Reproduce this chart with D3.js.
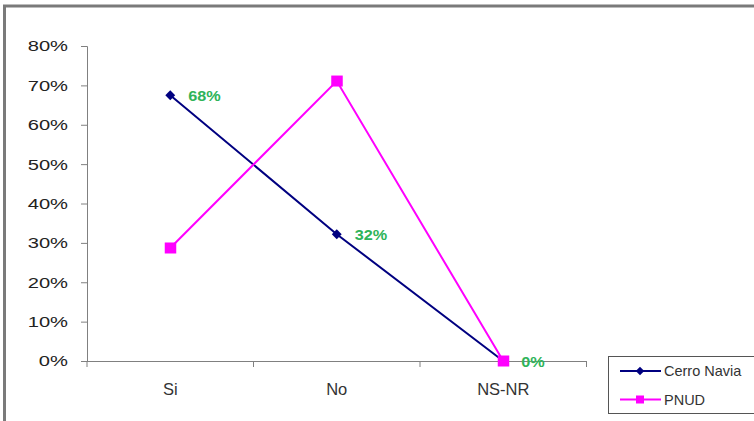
<!DOCTYPE html>
<html><head><meta charset="utf-8">
<script src="https://cdn.jsdelivr.net/npm/d3@7"></script>
<style>body{margin:0;background:#fff}svg{display:block;font-family:"Liberation Sans",Arial,sans-serif}</style>
</head><body><svg id="c" width="754" height="421"></svg>
<script>
const categories = ["Si", "No", "NS-NR"];
const cerroNavia = [0.675, 0.322, 0.0];
const pnud = [0.287, 0.711, 0.0];
const cerroLabels = ["68%", "32%", "0%"];
const yTicks = [0, 0.1, 0.2, 0.3, 0.4, 0.5, 0.6, 0.7, 0.8];
const seriesNames = ["Cerro Navia", "PNUD"];

const svg = d3.select("#c");
// frame
svg.append("path").attr("d", "M4.5,421 V6 H754").attr("fill", "none").attr("stroke", "#7a7a7a").attr("stroke-width", 3);

const x = d3.scaleBand().domain(categories).range([87, 586.5]);
const y = d3.scaleLinear().domain([0, 0.8]).range([361, 46]);

const yAxis = d3.axisLeft(y).tickValues(yTicks).tickFormat(d3.format(".0%")).tickSize(6).tickPadding(12);
const gy = svg.append("g").attr("transform", "translate(87,0)").call(yAxis);
gy.select(".domain").attr("stroke", "#808080").attr("d", "M-6,46.5H0.5V361");
gy.selectAll(".tick line").attr("stroke", "#808080");
gy.selectAll(".tick text").attr("fill", "#222").attr("font-size", 15.5)
  .attr("font-family", "Liberation Sans, Arial, sans-serif")
  .attr("x", 0).attr("transform", "translate(-19,0) scale(1.3,1)");

const gx = svg.append("g").attr("transform", "translate(0,361)");
gx.append("line").attr("x1", 87).attr("x2", 586.5).attr("y1", 0.5).attr("y2", 0.5).attr("stroke", "#808080");
const bounds = [87].concat(categories.map(c => x(c) + x.bandwidth()));
gx.selectAll(".bt").data(bounds).enter().append("line")
  .attr("x1", d => d).attr("x2", d => d).attr("y1", 0).attr("y2", 6).attr("stroke", "#808080");
gx.selectAll(".xl").data(categories).enter().append("text")
  .attr("x", d => x(d) + x.bandwidth() / 2).attr("y", 34).attr("text-anchor", "middle")
  .attr("font-size", 16.5).attr("fill", "#333").text(d => d);

const cx = c => x(c) + x.bandwidth() / 2;
const line = d3.line().x((d, i) => cx(categories[i])).y(d => y(d));

svg.append("path").datum(cerroNavia).attr("d", line).attr("fill", "none").attr("stroke", "#000080").attr("stroke-width", 2);
svg.append("path").datum(pnud).attr("d", line).attr("fill", "none").attr("stroke", "#ff00ff").attr("stroke-width", 2);

svg.selectAll(".cm").data(cerroNavia).enter().append("rect")
  .attr("x", -3.5).attr("y", -3.5).attr("width", 7).attr("height", 7).attr("fill", "#000080")
  .attr("transform", (d, i) => `translate(${cx(categories[i])},${y(d)}) rotate(45)`);
svg.selectAll(".pm").data(pnud).enter().append("rect")
  .attr("x", (d, i) => cx(categories[i]) - 5.5).attr("y", d => y(d) - 5.5)
  .attr("width", 11.5).attr("height", 11).attr("fill", "#ff00ff");

svg.selectAll(".lab").data(cerroNavia).enter().append("text")
  .attr("transform", (d, i) => `translate(${cx(categories[i]) + 18},${y(d) + 5.5}) scale(1.12,1)`)
  .attr("font-size", 14.5).attr("font-weight", "bold").attr("fill", "#2fb45a")
  .text((d, i) => cerroLabels[i]);

// legend
const lg = svg.append("g");
lg.append("rect").attr("x", 608.5).attr("y", 356.5).attr("width", 160).attr("height", 57).attr("fill", "#fff").attr("stroke", "#555");
const colors = ["#000080", "#ff00ff"];
seriesNames.forEach((n, i) => {
  const yy = 371 + i * 28.5;
  lg.append("line").attr("x1", 620).attr("x2", 661).attr("y1", yy).attr("y2", yy).attr("stroke", colors[i]).attr("stroke-width", 2);
  if (i === 0) lg.append("rect").attr("x", -3).attr("y", -3).attr("width", 6).attr("height", 6).attr("fill", colors[i]).attr("transform", `translate(640,${yy}) rotate(45)`);
  else lg.append("rect").attr("x", 636).attr("y", yy - 4).attr("width", 8).attr("height", 8).attr("fill", colors[i]);
  lg.append("text").attr("x", 664).attr("y", yy + 5).attr("font-size", 14.5).attr("fill", "#333").text(n);
});
</script></body></html>
